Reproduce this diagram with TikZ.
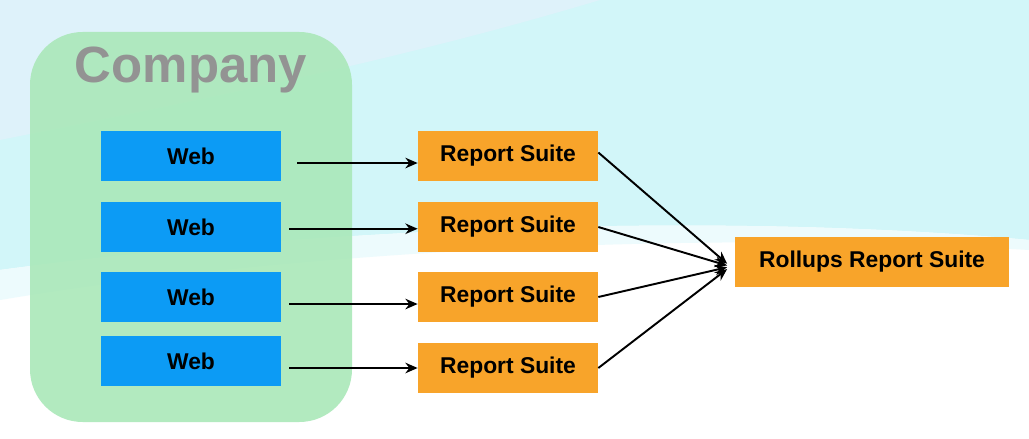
\documentclass[tikz,border=0pt]{standalone}
\usepackage{fontspec}
\setmainfont{Liberation Sans}
\usetikzlibrary{positioning, arrows.meta}
\definecolor{skycyan}{RGB}{210, 246, 249}
\definecolor{paleblue}{RGB}{222, 242, 250}
\definecolor{softgreen}{RGB}{170, 232, 185}
\definecolor{webblue}{RGB}{12, 155, 245}
\definecolor{suiteorange}{RGB}{248, 164, 42}
\tikzset{
  webbox/.style={rectangle, fill=webblue, minimum width=3.6cm, minimum height=1cm, font=\bfseries\fontsize{13}{15}\selectfont, inner sep=0pt},
  suitebox/.style={rectangle, fill=suiteorange, minimum width=3.6cm, minimum height=1cm, font=\bfseries\fontsize{13}{15}\selectfont, inner sep=0pt},
  flow/.style={-{Stealth[length=7pt,width=6pt]}, line width=1.1pt, black},
}
\begin{document}
\begin{tikzpicture}[x=0.02cm, y=-0.02cm]
% background
\fill[skycyan] (0,0) rectangle (1029,439);
\fill[paleblue] (0,0) -- (600,0) .. controls (400,60) and (200,100) .. (0,140) -- cycle;
\fill[white] (0,270) .. controls (300,230) and (700,210) .. (1029,240) -- (1029,439) -- (0,439) -- cycle;
\fill[white!60!skycyan] (0,270) .. controls (300,230) and (700,210) .. (1029,240) -- (1029,250) .. controls (700,230) and (300,250) .. (0,300) -- cycle;
% company group
\fill[softgreen, opacity=0.9, rounded corners=30] (30,32) rectangle (352,422);
\node[text=gray!85, font=\bfseries\fontsize{29}{34}\selectfont] (company) at (191,70) {Company};
% sources
\node[webbox] (web1) at (191,156) {Web};
\node[webbox] (web2) at (191,227) {Web};
\node[webbox] (web3) at (191,297) {Web};
\node[webbox] (web4) at (191,361) {Web};
% suites
\node[suitebox] (suite1) at (508,156) {Report Suite};
\node[suitebox] (suite2) at (508,227) {Report Suite};
\node[suitebox] (suite3) at (508,297) {Report Suite};
\node[suitebox] (suite4) at (508,368) {Report Suite};
\node[suitebox, minimum width=5.5cm] (rollup) at (872,262) {Rollups Report Suite};
% arrows
\draw[flow, shorten <=9pt] ([yshift=-4pt]web1.east) -- ([yshift=-4pt]suite1.west);
\draw[flow, shorten <=4.5pt] ([yshift=-1pt]web2.east) -- ([yshift=-1pt]suite2.west);
\draw[flow, shorten <=4.5pt] ([yshift=-4pt]web3.east) -- ([yshift=-4pt]suite3.west);
\draw[flow, shorten <=4.5pt] ([yshift=-4pt]web4.east) -- (suite4.west);
\draw[flow] ([yshift=2pt]suite1.east) -- ([xshift=-4pt,yshift=-1pt]rollup.west);
\draw[flow] (suite2.east) -- ([xshift=-4pt,yshift=-2pt]rollup.west);
\draw[flow] (suite3.east) -- ([xshift=-4pt,yshift=-3pt]rollup.west);
\draw[flow] (suite4.east) -- ([xshift=-4pt,yshift=-4pt]rollup.west);
\end{tikzpicture}
\end{document}
